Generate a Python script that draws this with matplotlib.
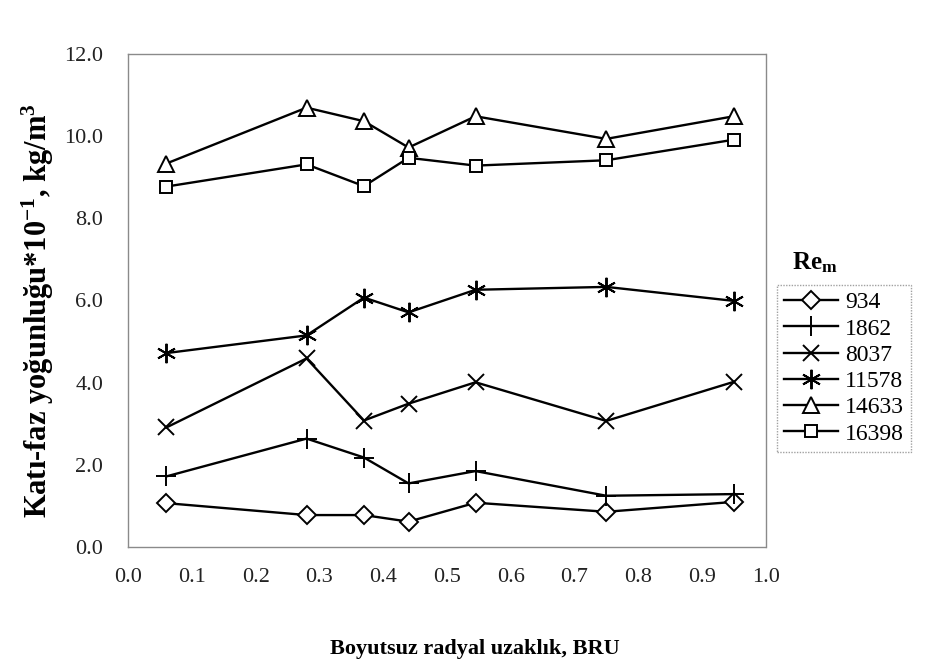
import matplotlib
matplotlib.use("Agg")
import matplotlib.pyplot as plt

plt.rcParams['font.family'] = ['Liberation Serif', 'DejaVu Serif']
plt.rcParams['mathtext.fontset'] = 'custom'
plt.rcParams['mathtext.rm'] = 'Liberation Serif'
plt.rcParams['mathtext.bf'] = 'Liberation Serif:bold'
plt.rcParams['mathtext.it'] = 'Liberation Serif:italic'

# Dimensionless radial positions (BRU) for each Reynolds series
bru = [0.06, 0.28, 0.37, 0.44, 0.545, 0.75, 0.95]

# Solid-phase density (x10^-1 kg/m^3) per Re_m
re_labels = ['934', '1862', '8037', '11578', '14633', '16398']
re_934 = [1.07, 0.78, 0.78, 0.62, 1.08, 0.86, 1.10]
re_1862 = [1.72, 2.64, 2.18, 1.55, 1.85, 1.25, 1.29]
re_8037 = [2.91, 4.59, 3.08, 3.49, 4.01, 3.07, 4.02]
re_11578 = [4.72, 5.15, 6.07, 5.71, 6.26, 6.33, 5.99]
re_14633 = [9.33, 10.69, 10.36, 9.72, 10.48, 9.93, 10.48]
re_16398 = [8.77, 9.31, 8.78, 9.47, 9.28, 9.41, 9.91]

x_ticks = [0.0, 0.1, 0.2, 0.3, 0.4, 0.5, 0.6, 0.7, 0.8, 0.9, 1.0]
y_ticks = [0.0, 2.0, 4.0, 6.0, 8.0, 10.0, 12.0]

series = [re_934, re_1862, re_8037, re_11578, re_14633, re_16398]
markers = ['D', '+', 'x', (6, 2, 0), '^', 's']
msizes = [9, 14, 12, 14, 11, 9]

fig = plt.figure(figsize=(9.28, 6.64), dpi=100)
ax = fig.add_axes([0.138, 0.176, 0.687, 0.743])

handles = []
for vals, mk, ms, lab in zip(series, markers, msizes, re_labels):
    h, = ax.plot(bru, vals, color='black', lw=1.7, marker=mk, markersize=ms,
                 markerfacecolor='white', markeredgecolor='black',
                 markeredgewidth=1.4, label=lab)
    handles.append(h)

ax.set_xlim(0.0, 1.0)
ax.set_ylim(0.0, 12.0)
ax.set_xticks(x_ticks)
ax.set_xticklabels([f'{v:.1f}' for v in x_ticks])
ax.set_yticks(y_ticks)
ax.set_yticklabels([f'{v:.1f}' for v in y_ticks])
ax.tick_params(axis='both', length=0, labelsize=16, colors='#222222')
ax.tick_params(axis='x', pad=15)
ax.tick_params(axis='y', pad=18)

for sp in ax.spines.values():
    sp.set_color('#8a8a8a')
    sp.set_linewidth(1.0)
    sp.set_linestyle((0, (1, 1)))

ax.set_xlabel('Boyutsuz radyal uzaklık, BRU', fontsize=16, fontweight='bold')
ax.xaxis.set_label_coords(0.544, -0.187)
ax.set_ylabel(r'Katı-faz yoğunluğu*10$^{\mathbf{-1}}$, kg/m$^{\mathbf{3}}$',
              fontsize=22, fontweight='bold')
ax.yaxis.set_label_coords(-0.113, 0.48)

leg = fig.legend(handles=handles, loc='upper left',
                 bbox_to_anchor=(0.837, 0.571), frameon=True, fancybox=False,
                 fontsize=17, handlelength=2.3, handletextpad=0.3,
                 labelspacing=0.2, borderpad=0.3, borderaxespad=0.0)
leg.get_frame().set_edgecolor('#8a8a8a')
leg.get_frame().set_linestyle((0, (1, 1)))
leg.get_frame().set_linewidth(1.0)

fig.text(0.878, 0.605, r'Re$_{\mathbf{m}}$', fontsize=18, fontweight='bold',
         ha='center', va='center')

fig.savefig('out.png', dpi=100, facecolor='white')
